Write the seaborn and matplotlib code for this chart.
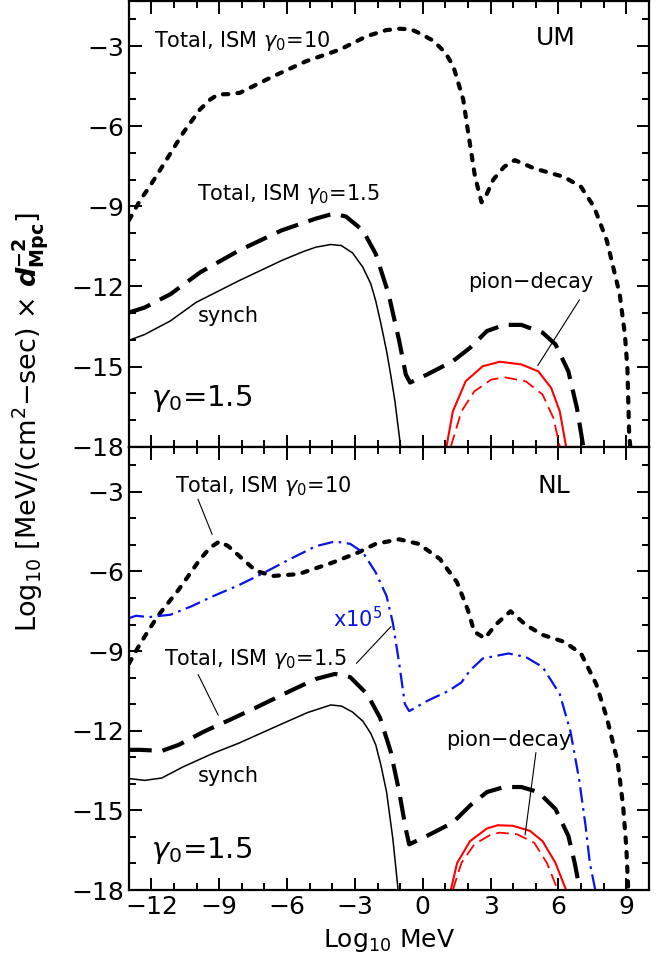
import numpy as np
import pandas as pd
import seaborn as sns
import matplotlib.pyplot as plt
from matplotlib.ticker import MultipleLocator

# ---- UM panel (top) ----
um_tot10_x = [-13, -12.5, -12.07, -11.33, -10.6, -9.86, -9.4, -9.05, -8.6, -8.09, -6.61, -5.14, -3.66, -2.48,
              -1.6, -1.0, -0.5, -0.19, 0.47, 1.0, 1.35, 1.79, 2.01, 2.31, 2.6, 2.8, 3.12, 3.6, 4.07, 4.93, 6.25,
              7.0, 7.58, 8.14, 8.71, 8.94, 9.05, 9.13, 9.18]
um_tot10_y = [-9.53, -8.77, -8.25, -7.25, -6.25, -5.38, -5.0, -4.81, -4.8, -4.75, -4.13, -3.56, -3.13, -2.63,
              -2.4, -2.35, -2.38, -2.5, -2.8, -3.25, -3.75, -5.0, -6.25, -7.88, -8.85, -8.6, -8.0, -7.52, -7.27,
              -7.58, -7.9, -8.27, -9.03, -10.28, -12.29, -13.8, -15.05, -17.56, -18]

um_tot15_x = [-13, -12.3, -11.16, -9.84, -8.14, -6.24, -4.73, -3.97, -3.4, -2.65, -2.08, -1.51, -1.04, -0.75,
              -0.56, 0.19, 1.33, 2.09, 2.84, 3.6, 4.36, 5.3, 5.87, 6.44, 6.82, 7.1]
um_tot15_y = [-12.98, -12.79, -12.29, -11.47, -10.66, -9.9, -9.46, -9.28, -9.38, -9.9, -10.78, -12.29, -14.05,
              -15.3, -15.6, -15.3, -14.8, -14.3, -13.67, -13.44, -13.44, -13.73, -14.17, -15.18, -16.56, -18]

um_synch_x = [-13, -12.3, -11.16, -10.03, -8.14, -6.24, -5.3, -4.73, -4.07, -3.6, -3.1, -2.65, -2.3, -2.08,
              -1.85, -1.6, -1.4, -1.23, -0.98]
um_synch_y = [-14.02, -13.8, -13.29, -12.6, -11.79, -11.03, -10.7, -10.53, -10.43, -10.47, -10.75, -11.28,
              -11.9, -12.54, -13.4, -14.42, -15.4, -16.3, -18]

um_pion_x = [1.05, 1.33, 1.9, 2.65, 3.41, 4.36, 5.11, 5.68, 6.06, 6.34]
um_pion_y = [-18, -16.68, -15.55, -14.99, -14.82, -14.92, -15.18, -15.8, -16.68, -18]

um_pion2_x = [1.24, 1.71, 2.28, 3.03, 3.6, 4.55, 5.3, 5.78, 6.06]
um_pion2_y = [-18, -16.68, -15.93, -15.49, -15.4, -15.55, -16.05, -16.93, -18]

# ---- NL panel (bottom) ----
nl_tot10_x = [-13, -12.49, -11.73, -10.79, -9.84, -9.4, -8.99, -8.6, -8.14, -7.38, -6.62, -5.49, -3.97, -2.84,
              -2.08, -1.04, -0.19, 0.76, 1.52, 1.99, 2.28, 2.75, 3.22, 3.88, 4.55, 5.3, 6.25, 7.0, 7.67, 8.14,
              8.62, 8.86, 9.0, 9.09]
nl_tot10_y = [-9.48, -8.71, -7.69, -6.68, -5.53, -5.1, -4.87, -5.05, -5.4, -5.98, -6.17, -6.1, -5.66, -5.28,
              -4.96, -4.79, -4.96, -5.53, -6.42, -7.44, -8.27, -8.52, -8.01, -7.5, -8.01, -8.39, -8.65, -9.09,
              -10.24, -11.51, -13.17, -14.82, -16.35, -18]

nl_x1e5_x = [-13, -12.68, -12.11, -11.16, -10.22, -9.27, -8.14, -7.0, -5.86, -4.73, -3.88, -3.21, -2.65,
             -2.08, -1.6, -1.32, -1.04, -0.79, -0.6, 0.19, 1.14, 1.71, 2.09, 2.65, 3.79, 4.55, 5.3, 6.06,
             6.53, 6.91, 7.2, 7.39, 7.63]
nl_x1e5_y = [-7.76, -7.67, -7.72, -7.63, -7.31, -6.93, -6.52, -6.04, -5.53, -5.05, -4.87, -4.96, -5.28,
             -6.04, -6.93, -7.95, -9.48, -11.0, -11.26, -10.88, -10.5, -10.18, -9.73, -9.28, -9.09, -9.22,
             -9.6, -10.62, -12.02, -13.8, -15.58, -16.98, -18]

nl_tot15_x = [-13, -12.49, -11.54, -10.79, -9.65, -8.51, -7.38, -5.86, -4.73, -3.88, -3.21, -2.46, -1.89,
              -1.42, -1.04, -0.75, -0.6, 0.19, 1.33, 2.09, 2.84, 3.6, 4.36, 5.11, 5.87, 6.44, 6.72, 6.95]
nl_tot15_y = [-12.72, -12.72, -12.76, -12.53, -12.02, -11.58, -11.13, -10.5, -10.05, -9.86, -9.98, -10.62,
              -11.51, -12.78, -14.31, -15.71, -16.28, -15.96, -15.46, -14.82, -14.31, -14.12, -14.12, -14.31,
              -14.95, -15.96, -16.98, -18]

nl_synch_x = [-13, -12.3, -11.54, -10.6, -9.27, -8.14, -6.62, -5.11, -4.07, -3.6, -3.1, -2.65, -2.3, -2.08,
              -1.85, -1.6, -1.32, -1.09]
nl_synch_y = [-13.8, -13.87, -13.78, -13.36, -12.85, -12.47, -11.89, -11.32, -11.03, -11.07, -11.3, -11.64,
              -12.1, -12.53, -13.3, -14.31, -16.09, -18]

nl_pion_x = [1.24, 1.52, 2.09, 2.84, 3.32, 3.98, 4.74, 5.3, 5.87, 6.34]
nl_pion_y = [-18, -16.98, -16.16, -15.68, -15.56, -15.58, -15.77, -16.16, -16.98, -18]

nl_pion2_x = [1.33, 1.71, 2.28, 3.03, 3.41, 4.17, 4.93, 5.49, 5.97]
nl_pion2_y = [-18, -16.98, -16.28, -15.9, -15.84, -15.9, -16.22, -16.98, -18]

sns.set_style("ticks")
plt.rcParams['font.family'] = ['DejaVu Sans']
plt.rcParams['mathtext.fontset'] = 'dejavusans'
for k in ['text.color', 'axes.labelcolor', 'xtick.color', 'ytick.color', 'axes.edgecolor']:
    plt.rcParams[k] = 'black'

DOT = dict(color='black', linewidth=3.0, linestyle=(0, (1.3, 2.2)), dash_capstyle='round')
LDASH = dict(color='black', linewidth=3.0, linestyle=(0, (5.5, 2.6)))
SOLID = dict(color='black', linewidth=1.1)
RED = dict(color='red', linewidth=1.5)
RED_D = dict(color='red', linewidth=1.3, linestyle=(0, (7, 3.5)))
BLUE = dict(color='#0a14e6', linewidth=1.6, linestyle=(0, (7, 2.5, 1.2, 2.5)))


def curve(ax, x, y, kw):
    d = pd.DataFrame({'x': x, 'y': y})
    sns.lineplot(data=d, x='x', y='y', ax=ax, sort=False, estimator=None, **kw)


def style(ax):
    ax.set_xlim(-13, 10)
    ax.set_ylim(-18, -1.3)
    ax.xaxis.set_major_locator(MultipleLocator(3))
    ax.xaxis.set_minor_locator(MultipleLocator(1))
    ax.yaxis.set_major_locator(MultipleLocator(3))
    ax.yaxis.set_minor_locator(MultipleLocator(1))
    ax.tick_params(which='both', direction='in', top=True, right=True, width=1.4, labelsize=18)
    ax.tick_params(which='major', length=9)
    ax.tick_params(which='minor', length=5)
    for s in ax.spines.values():
        s.set_linewidth(1.6)
    ax.set_xlabel('')
    ax.set_ylabel('')


def line(ax, p0, p1):
    ax.annotate('', xy=p1, xytext=p0, arrowprops=dict(arrowstyle='-', lw=0.8, color='black'))


fig = plt.figure(figsize=(6.71, 9.71), dpi=100)
ax1 = fig.add_axes([0.192, 0.540, 0.775, 0.4593])
ax2 = fig.add_axes([0.192, 0.0834, 0.775, 0.4566])

# top
curve(ax1, um_tot10_x, um_tot10_y, DOT)
curve(ax1, um_tot15_x, um_tot15_y, LDASH)
curve(ax1, um_synch_x, um_synch_y, SOLID)
curve(ax1, um_pion_x, um_pion_y, RED)
curve(ax1, um_pion2_x, um_pion2_y, RED_D)
style(ax1)
ax1.tick_params(labelbottom=False)
ax1.text(-11.9, -2.8, r'Total, ISM $\gamma_0$=10', fontsize=15, va='center')
ax1.text(5.9, -2.7, 'UM', fontsize=18, va='center', ha='center')
ax1.text(-10.0, -8.55, r'Total, ISM $\gamma_0$=1.5', fontsize=15, va='center')
ax1.text(-9.93, -13.1, 'synch', fontsize=15, va='center')
ax1.text(2.0, -11.85, 'pion\u2212decay', fontsize=15, va='center')
ax1.text(-12.0, -16.2, r'$\gamma_0$=1.5', fontsize=21, va='center')
line(ax1, (7.0, -12.41), (5.02, -15.05))

# bottom
curve(ax2, nl_tot10_x, nl_tot10_y, DOT)
curve(ax2, nl_x1e5_x, nl_x1e5_y, BLUE)
curve(ax2, nl_tot15_x, nl_tot15_y, LDASH)
curve(ax2, nl_synch_x, nl_synch_y, SOLID)
curve(ax2, nl_pion_x, nl_pion_y, RED)
curve(ax2, nl_pion2_x, nl_pion2_y, RED_D)
style(ax2)
ax2.text(-10.97, -2.8, r'Total, ISM $\gamma_0$=10', fontsize=15, va='center')
line(ax2, (-9.99, -3.18), (-9.27, -4.7))
ax2.text(5.78, -2.8, 'NL', fontsize=18, va='center', ha='center')
ax2.text(-3.97, -7.76, r'x10$^5$', fontsize=15, va='center', color='#0a14e6')
line(ax2, (-3.02, -9.54), (-1.32, -8.0))
ax2.text(-11.45, -9.3, r'Total, ISM $\gamma_0$=1.5', fontsize=15, va='center')
line(ax2, (-9.99, -9.79), (-8.99, -11.51))
ax2.text(-9.93, -13.7, 'synch', fontsize=15, va='center')
ax2.text(1.05, -12.34, 'pion\u2212decay', fontsize=15, va='center')
line(ax2, (5.02, -12.72), (4.51, -16.03))
ax2.text(-12.0, -16.5, r'$\gamma_0$=1.5', fontsize=21, va='center')

ax2.set_xlabel(r'Log$_{10}$ MeV', fontsize=18, labelpad=6)
fig.text(0.045, 0.565, r'Log$_{10}$ [MeV/(cm$^2$$-$sec) $\times$ $\boldsymbol{d}^{\mathbf{-2}}_{\mathbf{Mpc}}$]',
         rotation=90, fontsize=19.5, va='center', ha='center')

fig.savefig('out.png', dpi=100)
